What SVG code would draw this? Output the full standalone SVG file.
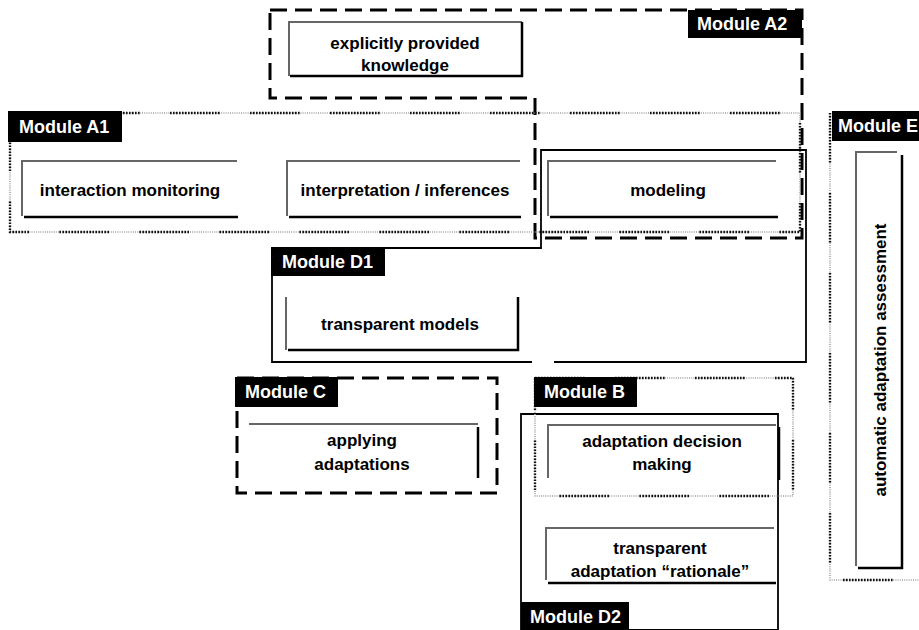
<svg xmlns="http://www.w3.org/2000/svg" width="919" height="630" viewBox="0 0 919 630">
<style>
text{font-family:"Liberation Sans",Arial,sans-serif;font-weight:bold;font-size:17px;fill:#000}
.c{text-anchor:middle}
.lbl{fill:#000}
.lt{fill:#fff;font-size:18px}
.dash{fill:none;stroke:#000;stroke-width:3;stroke-dasharray:17 8}
.dotg{fill:none;stroke:#a0a0a0;stroke-width:1.6;stroke-dasharray:1 1.2}
.dotk{fill:none;stroke:#111;stroke-width:2.4;stroke-dasharray:1.6 1.4 1.6 1.4 1.6 1.4 1.6 1.4 1.6 1.4 1.6 1.4 1.6 1.4 1.6 1.4 1.6 1.4 1.6 1.4 1.6 1.4 1.6 1.4 1.6 1.4 1.6 1.4 1.6 1.4 1.6 1.4 1.6 30.4}
.solid{fill:none;stroke:#000;stroke-width:1.8}
.g{stroke:#666;stroke-width:2;fill:none}
.k{stroke:#000;stroke-width:2.5;fill:none}
</style>
<rect width="919" height="630" fill="#fff"/>
<g id="connectors"></g>

<g id="moduleA2">
<path class="dash" d="M270,10 H802 V238 H535 V98 H270 Z"/>
<rect class="lbl" x="688" y="10" width="114" height="28"/>
<text class="lt" x="697" y="30">Module A2</text>
</g>

<g id="moduleA1">
<path class="dotg" d="M10,113 H800 V232 H10 Z"/>
<path class="dotk" d="M10,113 H800 V232 H10 Z"/>
<rect class="lbl" x="8" y="111" width="114" height="31"/>
<text class="lt" x="19" y="133">Module A1</text>
</g>

<g id="moduleD1">
<path class="solid" d="M532,362 H272 V248 H541 V150 H806 V362 H554"/>
<rect class="lbl" x="271" y="247" width="114" height="29"/>
<text class="lt" x="282" y="268">Module D1</text>
</g>

<g id="moduleC">
<path class="dash" d="M237,378 H497 V493 H237 Z"/>
<rect class="lbl" x="235" y="377" width="103" height="30"/>
<text class="lt" x="245" y="398">Module C</text>
</g>

<g id="moduleD2">
<path class="solid" d="M521,414 H778 V630 H521 Z"/>
<rect class="lbl" x="521" y="602" width="108" height="28"/>
<text class="lt" x="530" y="623">Module D2</text>
</g>

<g id="moduleB">
<path class="dotg" d="M535,378 H793 V496 H535 Z"/>
<path class="dotk" d="M535,378 H793 V496 H535 Z"/>
<rect class="lbl" x="534" y="377" width="103" height="30"/>
<text class="lt" x="544" y="398">Module B</text>
</g>

<g id="moduleE">
<path class="dotg" d="M830,113 V580 H919"/>
<path class="dotk" d="M830,113 V580 H919"/>
<rect class="lbl" x="832" y="111" width="87" height="30"/>
<text class="lt" x="838" y="132">Module E</text>
</g>

<g id="explicitly-provided-knowledge">
<path class="g" d="M289,76 V22 H522"/>
<path class="k" d="M290,76 H522 V22"/>
<text class="c" x="405" y="49">explicitly provided</text>
<text class="c" x="405" y="71">knowledge</text>
</g>

<g id="interaction-monitoring">
<path class="g" d="M22,216 V161 H237"/>
<path class="k" d="M24,217 H238"/>
<text class="c" x="130" y="196">interaction monitoring</text>
</g>

<g id="interpretation-inferences">
<path class="g" d="M287,216 V161 H520"/>
<path class="k" d="M289,217 H521"/>
<text class="c" x="405" y="196">interpretation / inferences</text>
</g>

<g id="modeling">
<path class="g" d="M548,216 V161 H776"/>
<path class="k" d="M550,217 H778"/>
<text class="c" x="668" y="196">modeling</text>
</g>

<g id="transparent-models">
<path class="g" d="M286,297 V350"/>
<path class="k" d="M288,350 H518 V297"/>
<text class="c" x="400" y="330">transparent models</text>
</g>

<g id="applying-adaptations">
<path class="g" d="M249,424 H478"/>
<path class="k" d="M478,427 V478"/>
<text class="c" x="362" y="446">applying</text>
<text class="c" x="362" y="470">adaptations</text>
</g>

<g id="adaptation-decision-making">
<path class="g" d="M548,478 V425 H776"/>
<path class="k" d="M779,427 V480"/>
<text class="c" x="662" y="447">adaptation decision</text>
<text class="c" x="662" y="470">making</text>
</g>

<g id="transparent-adaptation-rationale">
<path class="g" d="M546,580 V528 H774"/>
<path class="k" d="M548,583 H776"/>
<text class="c" x="660" y="554">transparent</text>
<text class="c" x="660" y="577">adaptation “rationale”</text>
</g>

<g id="automatic-adaptation-assessment">
<path class="g" d="M856,566 V152 H897"/>
<path class="k" d="M902,155 V568 H858"/>
<text class="c" transform="translate(886,360) rotate(-90)">automatic adaptation assessment</text>
</g>
</svg>
